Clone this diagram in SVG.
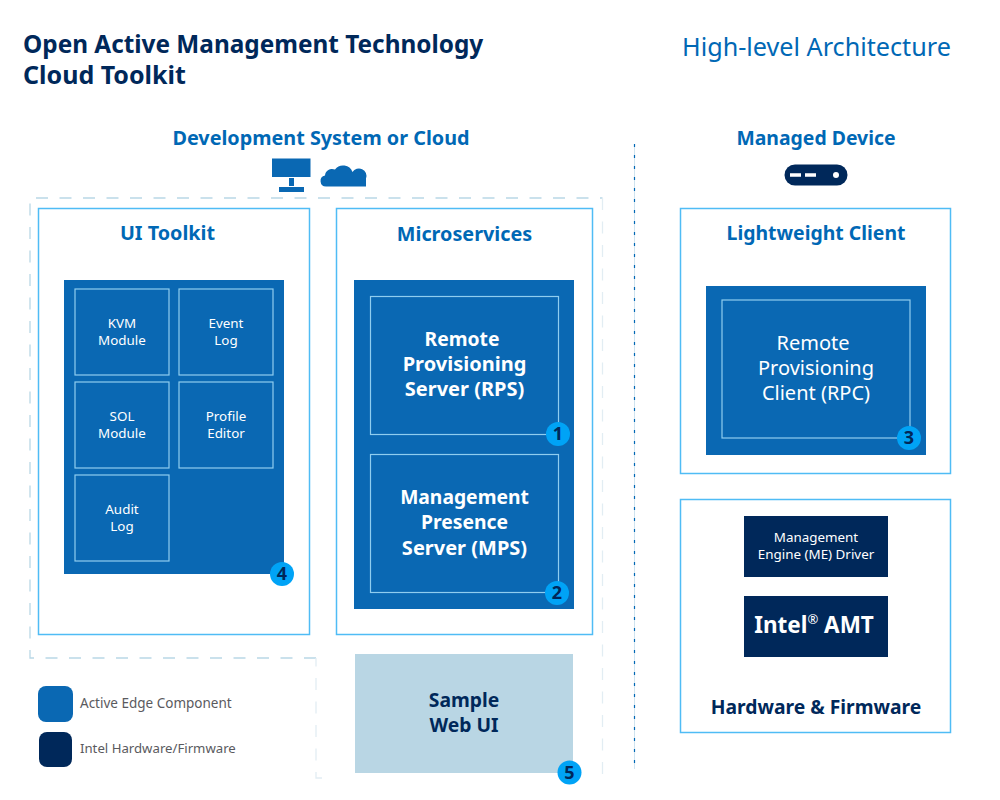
<svg xmlns="http://www.w3.org/2000/svg" width="1000" height="800" viewBox="0 0 1000 800">
<style>
text{font-family:"Noto Sans","Open Sans","Liberation Sans",sans-serif;text-anchor:middle}
.title{font-size:24.350px;font-weight:700;fill:#00285a;text-anchor:start}
.title2{font-size:25px;font-weight:700;fill:#00285a;text-anchor:start}
.sub{font-size:25.200px;fill:#0068b5;text-anchor:start}
.h{font-size:19.800px;font-weight:700;fill:#0068b5}
.h2{font-size:19.400px;font-weight:700;fill:#0068b5}
.hn{font-size:19.300px;font-weight:700;fill:#00285a}
.panel{fill:#fff;stroke:#4fbcf5;stroke-width:1.500}
.blue{fill:#0a68b3}
.navy{fill:#00285a}
.in{fill:none;stroke:#8fcdef;stroke-width:1.200}
.mod{font-size:13.400px;fill:#fff}
.big{font-size:20px;font-weight:700;fill:#fff}
.big2{font-size:19.300px;font-weight:700;fill:#fff}
.rpc{font-size:20px;fill:#fff}
.badge{fill:#00a3f6}
.bt{font-size:18px;font-weight:700;fill:#00285a}
.leg{font-size:13.500px;fill:#5a5a5e;text-anchor:start}
.leg2{font-size:13.200px;fill:#5a5a5e;text-anchor:start}
</style>
<rect width="1000" height="800" fill="#fff"/>
<g id="header">
<text class="title" x="23" y="53">Open Active Management Technology</text>
<text class="title2" x="23" y="84">Cloud Toolkit</text>
<text class="sub" x="682" y="56">High-level Architecture</text>
<text class="h" x="321" y="145">Development System or Cloud</text>
<text class="h2" x="816" y="145">Managed Device</text>
</g>
<g id="icons">
<path class="blue" d="M272 158.500h38.500v18.500h-38.500zM289 178h5v8h-5zM279 187h25v5h-25z"/>
<path class="blue" d="M326 186.500a5.500 5.500 0 0 1-1-10.900a7 7 0 0 1 10-6a10 10 0 0 1 17.500 2.500a7.500 7.500 0 0 1 13.500 6.400v8z"/>
<rect class="navy" x="784.500" y="164.500" width="63" height="21" rx="10.500"/>
<path d="M790 175h11M805 175h11" stroke="#fff" stroke-width="3.500" fill="none"/>
<circle cx="836" cy="175" r="3" fill="#fff"/>
</g>
<g id="connectors" fill="none">
<path id="boundary-left" d="M316 658H30V198H602.500" stroke="#b9d7e6" stroke-width="1.300" stroke-dasharray="12 11.500"/>
<path id="boundary-right" d="M602.500 198V778H596M322 778H316V658" stroke="#e2edf3" stroke-width="1.300" stroke-dasharray="12 11.500"/>
<path id="divider-base" d="M634.500 144V769" stroke="#cfe3ef" stroke-width="1"/>
<path id="divider" d="M634.500 144V769" stroke="#0068b5" stroke-width="1.200" stroke-dasharray="3 8"/>
</g>
<g id="ui-toolkit">
<rect class="panel" x="38.500" y="208.500" width="271" height="426"/>
<text class="h" x="167.500" y="240">UI Toolkit</text>
<rect class="blue" x="64" y="280" width="220" height="294"/>
</g>
<g id="kvm"><rect class="in" x="75" y="289" width="94" height="86"/><text class="mod" x="122" y="328">KVM</text><text class="mod" x="122" y="345">Module</text></g>
<g id="event-log"><rect class="in" x="179" y="289" width="94" height="86"/><text class="mod" x="226" y="328">Event</text><text class="mod" x="226" y="345">Log</text></g>
<g id="sol"><rect class="in" x="75" y="382" width="94" height="86"/><text class="mod" x="122" y="421">SOL</text><text class="mod" x="122" y="438">Module</text></g>
<g id="profile-editor"><rect class="in" x="179" y="382" width="94" height="86"/><text class="mod" x="226" y="421">Profile</text><text class="mod" x="226" y="438">Editor</text></g>
<g id="audit-log"><rect class="in" x="75" y="475" width="94" height="86"/><text class="mod" x="122" y="514">Audit</text><text class="mod" x="122" y="531">Log</text></g>
<g id="microservices">
<rect class="panel" x="336.500" y="208.500" width="256" height="426"/>
<text class="h" x="464.500" y="241">Microservices</text>
<rect class="blue" x="354" y="280" width="220" height="329"/>
</g>
<g id="rps"><rect class="in" x="370.500" y="296.500" width="188" height="138"/><text class="big2" x="462" y="346">Remote</text><text class="big" x="464.500" y="371">Provisioning</text><text class="big" x="464.500" y="396">Server (RPS)</text></g>
<g id="mps"><rect class="in" x="370.500" y="454.500" width="188" height="138"/><text class="big2" x="464.500" y="504">Management</text><text class="big2" x="464.500" y="529">Presence</text><text class="big" x="464.500" y="555">Server (MPS)</text></g>
<g id="lightweight-client">
<rect class="panel" x="680.500" y="208.500" width="270" height="265"/>
<text class="h2" x="816" y="240">Lightweight Client</text>
<rect class="blue" x="706" y="286" width="220" height="169"/>
</g>
<g id="rpc"><rect class="in" x="722" y="300" width="188" height="138"/><text class="rpc" x="813" y="350">Remote</text><text class="rpc" x="816" y="375">Provisioning</text><text class="rpc" x="816" y="400">Client (RPC)</text></g>
<g id="hardware-firmware">
<rect class="panel" x="680.500" y="499.500" width="270" height="233"/>
<text class="hn" x="816" y="714">Hardware &amp; Firmware</text>
</g>
<g id="me-driver"><rect class="navy" x="744" y="516" width="144" height="61"/><text class="mod" x="816" y="542">Management</text><text class="mod" x="816" y="559">Engine (ME) Driver</text></g>
<g id="amt"><rect class="navy" x="744" y="596" width="144" height="61"/><text x="814" y="633" font-size="22.500" font-weight="700" fill="#fff">Intel<tspan font-size="13" font-weight="400" dy="-9">®</tspan><tspan dy="9"> AMT</tspan></text></g>
<g id="sample-web-ui"><rect x="355" y="654" width="218" height="119" fill="#b9d6e4"/><text class="hn" x="464" y="707">Sample</text><text class="hn" x="464" y="732">Web UI</text></g>
<g id="badge-1"><circle class="badge" cx="558" cy="434" r="12"/><text class="bt" x="558" y="440">1</text></g>
<g id="badge-2"><circle class="badge" cx="557" cy="593" r="12"/><text class="bt" x="557" y="599">2</text></g>
<g id="badge-3"><circle class="badge" cx="909" cy="438" r="12"/><text class="bt" x="909" y="444">3</text></g>
<g id="badge-4"><circle class="badge" cx="282" cy="574" r="12"/><text class="bt" x="282" y="580">4</text></g>
<g id="badge-5"><circle class="badge" cx="569.500" cy="772.500" r="12"/><text class="bt" x="569.500" y="778.500">5</text></g>
<g id="legend-active-edge"><rect class="blue" x="38" y="686" width="35" height="36" rx="8"/><text class="leg" x="80" y="708">Active Edge Component</text></g>
<g id="legend-intel"><rect class="navy" x="39" y="732" width="33" height="35" rx="8"/><text class="leg2" x="80" y="753">Intel Hardware/Firmware</text></g>
</svg>
